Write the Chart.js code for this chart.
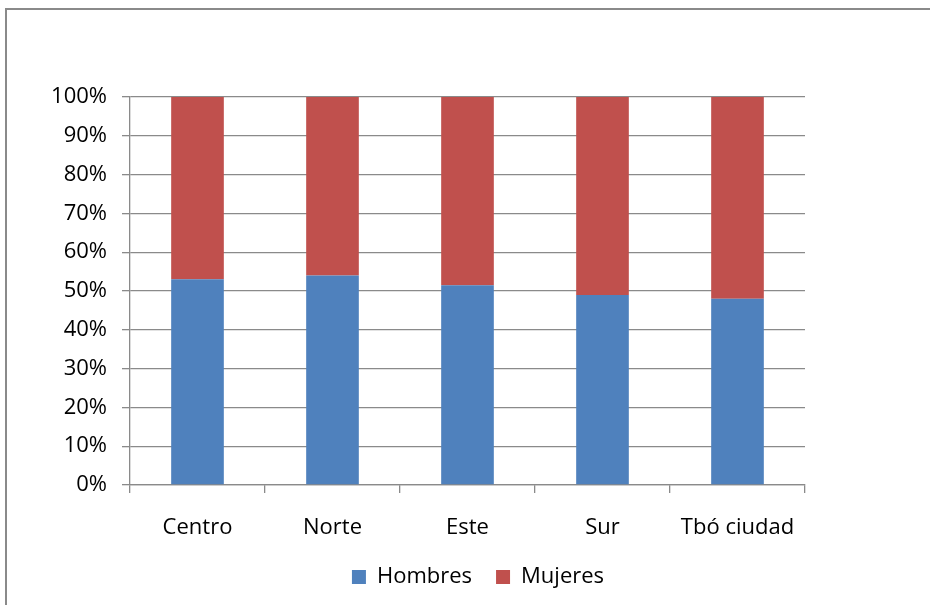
<!DOCTYPE html>
<html>
<head>
<meta charset="utf-8">
<script src="https://cdn.jsdelivr.net/npm/chart.js@4/dist/chart.umd.min.js"></script>
<style>
  html, body { margin: 0; padding: 0; background: #fff; overflow: hidden; }
  #wrap { position: relative; width: 930px; height: 605px; }
  #frame {
    position: absolute; left: 5px; top: 8px; width: 1000px; height: 1000px;
    border-left: 2px solid #8a8a8a; border-top: 2px solid #8a8a8a;
  }
  #chart { position: absolute; left: 0; top: 0; }
</style>
</head>
<body>
<div id="wrap">
  <div id="frame"></div>
  <canvas id="chart" width="930" height="605"></canvas>
</div>
<script>
// zonas y porcentajes
const zonas = ["Centro", "Norte", "Este", "Sur", "Tbó ciudad"];
const hombres = [53, 54, 51.5, 49, 48];
const mujeres = [47, 46, 48.5, 51, 52];
const ticksY = [0, 10, 20, 30, 40, 50, 60, 70, 80, 90, 100];

const fuente = { family: "'Open Sans', sans-serif", size: 22 };
const gris = "#8a8a8a";

// mueve la leyenda: centrada en x=478, un poco más arriba
const moverLeyenda = {
  id: "moverLeyenda",
  beforeDraw(chart) {
    const lg = chart.legend;
    if (!lg) return;
    const dx = 478 - (lg.left + lg.right) / 2;
    const dy = -7;
    lg.left += dx; lg.right += dx;
    lg.top += dy; lg.bottom += dy;
    lg.adjustHitBoxes();
  }
};

const ctx = document.getElementById("chart").getContext("2d");
new Chart(ctx, {
  type: "bar",
  data: {
    labels: zonas,
    datasets: [
      { label: "Hombres", data: hombres, backgroundColor: "#4f81bd" },
      { label: "Mujeres", data: mujeres, backgroundColor: "#c0504d" }
    ]
  },
  options: {
    responsive: false,
    animation: false,
    layout: { padding: { left: 0, right: 125, top: 97, bottom: 0 } },
    datasets: { bar: { categoryPercentage: 1, barPercentage: 0.39 } },
    scales: {
      x: {
        stacked: true,
        grid: { display: true, drawOnChartArea: false, color: gris, lineWidth: 1.3, tickLength: 8 },
        border: { color: gris, width: 1.3 },
        ticks: { color: "#000", font: fuente, padding: 22, maxRotation: 0 },
        afterFit: s => { s.height = 64; }
      },
      y: {
        stacked: true,
        min: 0,
        max: 100,
        afterBuildTicks: s => { s.ticks = ticksY.map(v => ({ value: v })); },
        grid: { color: gris, lineWidth: 1.3, tickLength: 8 },
        border: { color: gris, width: 1.3 },
        ticks: { color: "#000", font: fuente, padding: 15, callback: v => v + "%" },
        afterFit: s => { s.width = 130; }
      }
    },
    plugins: {
      legend: {
        position: "bottom",
        labels: { color: "#000", font: fuente, boxWidth: 14, boxHeight: 14, padding: 24 }
      },
      tooltip: { enabled: false }
    }
  },
  plugins: [moverLeyenda]
});
</script>
</body>
</html>
